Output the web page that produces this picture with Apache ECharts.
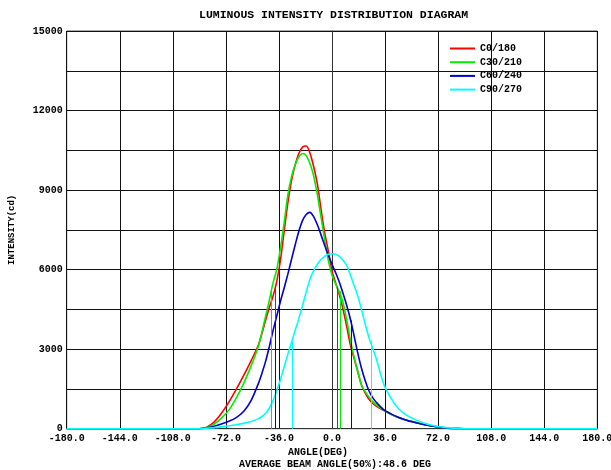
<!DOCTYPE html>
<html>
<head>
<meta charset="utf-8">
<script src="https://cdn.jsdelivr.net/npm/echarts@6/dist/echarts.min.js"></script>
<style>html,body{margin:0;padding:0;background:#fff}#c{width:611px;height:470px}</style>
</head>
<body>
<div id="c"></div>
<script>
const seriesNames = ['C0/180', 'C30/210', 'C60/240', 'C90/270'];
const seriesColors = ['#ff0000', '#00ee00', '#0000d0', '#00ffff'];
const angles = [-180, -90, -85, -80, -75, -70, -65, -60, -55, -50, -47.5, -45, -42.5, -40, -37.5, -35, -32.5, -30, -27.5, -25, -22.5, -20, -17.5, -15, -12.5, -10, -7.5, -5, -2.5, 0, 2.5, 5, 7.5, 10, 12.5, 15, 17.5, 20, 22.5, 25, 27.5, 30, 35, 40, 45, 50, 55, 60, 65, 70, 75, 80, 85, 90, 180];
const c0 = [0, 0, 60, 250, 580, 1000, 1480, 2000, 2550, 3150, 3600, 4100, 4580, 5000, 5550, 6350, 7420, 8500, 9350, 9950, 10380, 10620, 10660, 10400, 9900, 9250, 8300, 7400, 6700, 5950, 5500, 5050, 4500, 3850, 3150, 2650, 2150, 1650, 1350, 1120, 960, 850, 690, 540, 420, 330, 260, 190, 130, 80, 40, 10, 3, 0, 0];
const c30 = [0, 0, 40, 170, 400, 700, 1150, 1700, 2350, 3100, 3650, 4250, 4850, 5500, 6000, 6800, 7750, 8800, 9500, 9950, 10250, 10380, 10300, 10000, 9550, 8850, 8000, 7150, 6350, 5800, 5450, 5150, 4750, 4100, 3350, 2700, 2150, 1650, 1400, 1200, 1030, 900, 700, 545, 420, 330, 260, 190, 130, 80, 40, 10, 3, 0, 0];
const c60 = [0, 0, 30, 90, 180, 280, 420, 650, 1050, 1700, 2100, 2550, 3100, 3700, 4250, 4800, 5300, 5820, 6380, 6930, 7450, 7850, 8080, 8160, 8000, 7700, 7320, 6920, 6550, 6200, 5880, 5520, 5100, 4650, 4130, 3500, 2850, 2280, 1820, 1440, 1180, 1000, 720, 560, 430, 330, 250, 190, 130, 80, 40, 10, 3, 0, 0];
const c90 = [0, 0, 20, 40, 70, 110, 150, 200, 270, 380, 460, 580, 780, 1060, 1420, 1850, 2330, 2800, 3250, 3700, 4150, 4650, 5150, 5630, 5950, 6200, 6380, 6500, 6580, 6600, 6580, 6500, 6350, 6150, 5800, 5400, 5000, 4500, 3950, 3450, 3050, 2650, 1700, 1150, 760, 530, 380, 260, 170, 100, 60, 30, 10, 0, 0];
const halfLeft = [-38.3, -41.3, -38.8, -27.3];
const halfRight = [3.7, 5.4, 13.1, 26.7];
const halfValue = [5340, 5190, 4080, 3300];
const yTickLabels = [0, 3000, 6000, 9000, 12000, 15000];
const titleText = 'LUMINOUS INTENSITY DISTRIBUTION DIAGRAM';
const xName = 'ANGLE(DEG)';
const yName = 'INTENSITY(cd)';
const beamText = 'AVERAGE BEAM ANGLE(50%):48.6 DEG';

const allValues = [c0, c30, c60, c90];
const FONT = 'Liberation Mono';
const chart = echarts.init(document.getElementById('c'));
const series = seriesNames.map((name, i) => ({
  name: name,
  type: 'line',
  data: angles.map((a, k) => [a, allValues[i][k]]),
  symbol: 'none',
  smooth: 0.3,
  lineStyle: { color: seriesColors[i], width: 1.6 },
  itemStyle: { color: seriesColors[i] },
  animation: false,
  markLine: {
    silent: true,
    symbol: 'none',
    label: { show: false },
    animation: false,
    lineStyle: { color: seriesColors[i], width: 1, type: 'solid', opacity: 1 },
    data: [
      [{ coord: [halfLeft[i], 0] }, { coord: [halfLeft[i], halfValue[i]] }],
      [{ coord: [halfRight[i], 0] }, { coord: [halfRight[i], halfValue[i]] }]
    ]
  }
}));

chart.setOption({
  backgroundColor: '#fff',
  animation: false,
  title: [
    { text: titleText, left: 194, top: 4, textStyle: { fontFamily: FONT, fontSize: 11.5, fontWeight: 'bold', color: '#000' } },
    { text: xName, left: 283, top: 442, textStyle: { fontFamily: FONT, fontSize: 10, fontWeight: 'bold', color: '#000' } },
    { text: beamText, left: 234, top: 454, textStyle: { fontFamily: FONT, fontSize: 10, fontWeight: 'bold', color: '#000' } }
  ],
  legend: {
    orient: 'vertical',
    left: 445,
    top: 38,
    itemWidth: 25,
    itemHeight: 2,
    itemGap: 2.7,
    icon: 'rect',
    data: seriesNames,
    textStyle: { fontFamily: FONT, fontSize: 10, fontWeight: 'bold', color: '#000', lineHeight: 11 }
  },
  grid: { left: 66.7, right: 13.7, top: 31, bottom: 41.3, show: true, borderColor: '#555', borderWidth: 1,
    containLabel: false, outerBoundsMode: 'none' },
  xAxis: {
    type: 'value', min: -180, max: 180, interval: 36,
    axisLine: { show: true, onZero: false, lineStyle: { color: '#333', width: 1 } },
    axisTick: { show: false },
    splitLine: { show: true, lineStyle: { color: '#111', width: 1 } },
    axisLabel: { fontFamily: FONT, fontSize: 10, fontWeight: 'bold', color: '#000', margin: 5, formatter: v => v.toFixed(1) }
  },
  yAxis: {
    type: 'value', min: 0, max: 15000, interval: 1500,
    name: yName, nameLocation: 'middle', nameGap: 50,
    nameTextStyle: { fontFamily: FONT, fontSize: 9, fontWeight: 'bold', color: '#000' },
    axisLine: { show: true, lineStyle: { color: '#333', width: 1 } },
    axisTick: { show: false },
    splitLine: { show: true, lineStyle: { color: '#111', width: 1 } },
    axisLabel: { fontFamily: FONT, fontSize: 10, fontWeight: 'bold', color: '#000', margin: 4,
      formatter: v => yTickLabels.indexOf(v) >= 0 ? String(v) : '' }
  },
  series: series
});
</script>
</body>
</html>
